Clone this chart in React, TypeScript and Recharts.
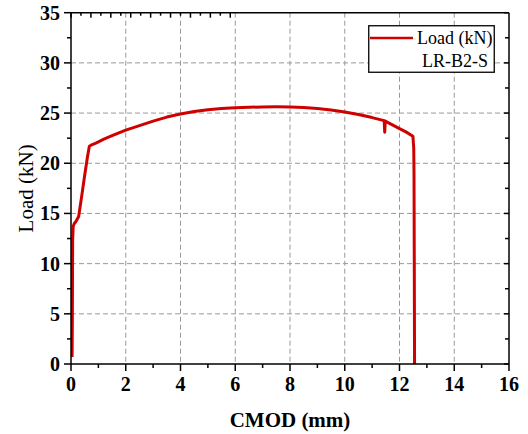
import React from 'react';
import { LineChart, Line, XAxis, YAxis, CartesianGrid, Legend } from 'recharts';

// CMOD (mm) vs Load (kN)
const cmod = [
    0.04, 0.05, 0.055, 0.06, 0.08, 0.12, 0.18, 0.28, 0.4, 0.5, 0.6, 0.67, 0.73, 0.91,
    1.2, 1.5, 2.0, 2.5, 3.0, 3.5, 4.0, 4.5, 5.0, 5.5, 6.0, 6.5, 7.0, 7.5, 8.0, 8.5, 9.0,
    9.5, 10.0, 10.5, 11.0, 11.44, 11.46, 11.48, 12.0, 12.25, 12.49, 12.52, 12.53, 12.54, 12.55,
];
const load = [
    0.7, 5.0, 9.0, 12.3, 13.7, 14.0, 14.2, 14.7, 16.9, 18.8, 20.6, 21.7, 21.8, 22.0,
    22.4, 22.75, 23.3, 23.75, 24.2, 24.6, 24.9, 25.15, 25.33, 25.45, 25.53, 25.58, 25.61, 25.62, 25.6, 25.55, 25.45,
    25.3, 25.1, 24.85, 24.55, 24.25, 23.1, 24.2, 23.45, 23.1, 22.7, 21.5, 19.0, 10.0, 0,
];

const xTicks = [0, 1, 2, 3, 4, 5, 6, 7, 8, 9, 10, 11, 12, 13, 14, 15, 16];
const yTicks = [0, 2.5, 5, 7.5, 10, 12.5, 15, 17.5, 20, 22.5, 25, 27.5, 30, 32.5, 35];
const xGrid = [2, 4, 6, 8, 10, 12, 14];
const yGrid = [5, 10, 15, 20, 25, 30];

const seriesName = 'Load (kN)';
const specimen = 'LR-B2-S';

const data = cmod.map((c, i) => ({ cmod: c, load: load[i] }));

const SERIF = '"Liberation Serif", "Times New Roman", serif';
const RED = '#cf0000';

const BottomTick = (props: any) => {
    const { x, y, payload } = props;
    const major = payload.value % 2 === 0;
    return (
        <g>
            <line x1={x} y1={y} x2={x} y2={y + (major ? 7 : 4)} stroke="#000" strokeWidth={1.5} />
            {major && (
                <text x={x} y={y + 27} textAnchor="middle" fontFamily={SERIF} fontWeight="bold" fontSize={20} fill="#000">
                    {payload.value}
                </text>
            )}
        </g>
    );
};

const LeftTick = (props: any) => {
    const { x, y, payload } = props;
    const major = payload.value % 5 === 0;
    return (
        <g>
            <line x1={x} y1={y} x2={x - (major ? 7 : 4)} y2={y} stroke="#000" strokeWidth={1.5} />
            {major && (
                <text x={x - 11} y={y + 7} textAnchor="end" fontFamily={SERIF} fontWeight="bold" fontSize={20} fill="#000">
                    {payload.value}
                </text>
            )}
        </g>
    );
};

const TopTick = (props: any) => {
    const { x, y, payload } = props;
    const major = payload.value % 2 === 0;
    return <line x1={x} y1={y} x2={x} y2={y + (major ? 5 : 3)} stroke="#000" strokeWidth={1.5} />;
};

const RightTick = (props: any) => {
    const { x, y, payload } = props;
    const major = payload.value % 5 === 0;
    return <line x1={x} y1={y} x2={x - (major ? 5 : 4)} y2={y} stroke="#000" strokeWidth={1.5} />;
};

const LegendBox = () => (
    <svg width={127} height={48} style={{ display: 'block' }}>
        <rect x={0.75} y={0.75} width={125.5} height={46.5} fill="#fff" stroke="#000" strokeWidth={1.3} />
        <line x1={2} y1={13} x2={45} y2={13} stroke={RED} strokeWidth={2.5} />
        <text x={49} y={19} fontFamily={SERIF} fontSize={18} fill="#000">{seriesName}</text>
        <text x={120} y={42} textAnchor="end" fontFamily={SERIF} fontSize={18} fill="#000">{specimen}</text>
    </svg>
);

export default function App() {
    return (
        <div style={{ position: 'absolute', left: 0, top: 0, width: 528, height: 434, background: '#fff' }}>
            <LineChart width={528} height={434} data={data} margin={{ top: 11.7, right: 18, bottom: 20, left: 21 }}>
                <CartesianGrid
                    stroke="#999"
                    strokeDasharray="5 3"
                    horizontalValues={yGrid}
                    verticalValues={xGrid}
                />
                <XAxis
                    dataKey="cmod"
                    type="number"
                    domain={[0, 16]}
                    ticks={xTicks}
                    interval={0}
                    height={50}
                    tickSize={0}
                    tickMargin={0}
                    tickLine={false}
                    tick={<BottomTick />}
                    axisLine={{ stroke: '#000', strokeWidth: 1.5 }}
                    allowDataOverflow
                    label={(p: any) => {
                        const vb = p.viewBox;
                        return (
                            <text x={vb.x + vb.width / 2} y={vb.y + 63} textAnchor="middle" fontFamily={SERIF} fontWeight="bold" fontSize={21} fill="#000">
                                CMOD (mm)
                            </text>
                        );
                    }}
                />
                <XAxis
                    xAxisId="top"
                    orientation="top"
                    type="number"
                    domain={[0, 16]}
                    ticks={xTicks}
                    interval={0}
                    height={1}
                    tickSize={0}
                    tickMargin={0}
                    tickLine={false}
                    tick={<TopTick />}
                    axisLine={{ stroke: '#000', strokeWidth: 1.5 }}
                    allowDataOverflow
                />
                <YAxis
                    type="number"
                    domain={[0, 35]}
                    ticks={yTicks}
                    interval={0}
                    width={50}
                    tickSize={0}
                    tickMargin={0}
                    tickLine={false}
                    tick={<LeftTick />}
                    axisLine={{ stroke: '#000', strokeWidth: 1.5 }}
                    allowDataOverflow
                    label={(p: any) => {
                        const vb = p.viewBox;
                        const cy = vb.y + vb.height / 2;
                        return (
                            <text x={26} y={cy} transform={`rotate(-90, 26, ${cy})`} textAnchor="middle" dominantBaseline="central" fontFamily={SERIF} fontSize={21} fill="#000">
                                Load (kN)
                            </text>
                        );
                    }}
                />
                <YAxis
                    yAxisId="right"
                    orientation="right"
                    type="number"
                    domain={[0, 35]}
                    ticks={yTicks}
                    interval={0}
                    width={1}
                    tickSize={0}
                    tickMargin={0}
                    tickLine={false}
                    tick={<RightTick />}
                    axisLine={{ stroke: '#000', strokeWidth: 1.5 }}
                    allowDataOverflow
                />
                <Legend
                    layout="vertical"
                    align="center"
                    verticalAlign="middle"
                    content={() => <LegendBox />}
                    wrapperStyle={{ left: 368, top: 25, width: 127, height: 48 }}
                />
                <Line
                    type="linear"
                    dataKey="load"
                    name={seriesName}
                    stroke={RED}
                    strokeWidth={3}
                    strokeLinejoin="round"
                    dot={false}
                    activeDot={false}
                    isAnimationActive={false}
                />
            </LineChart>
        </div>
    );
}
